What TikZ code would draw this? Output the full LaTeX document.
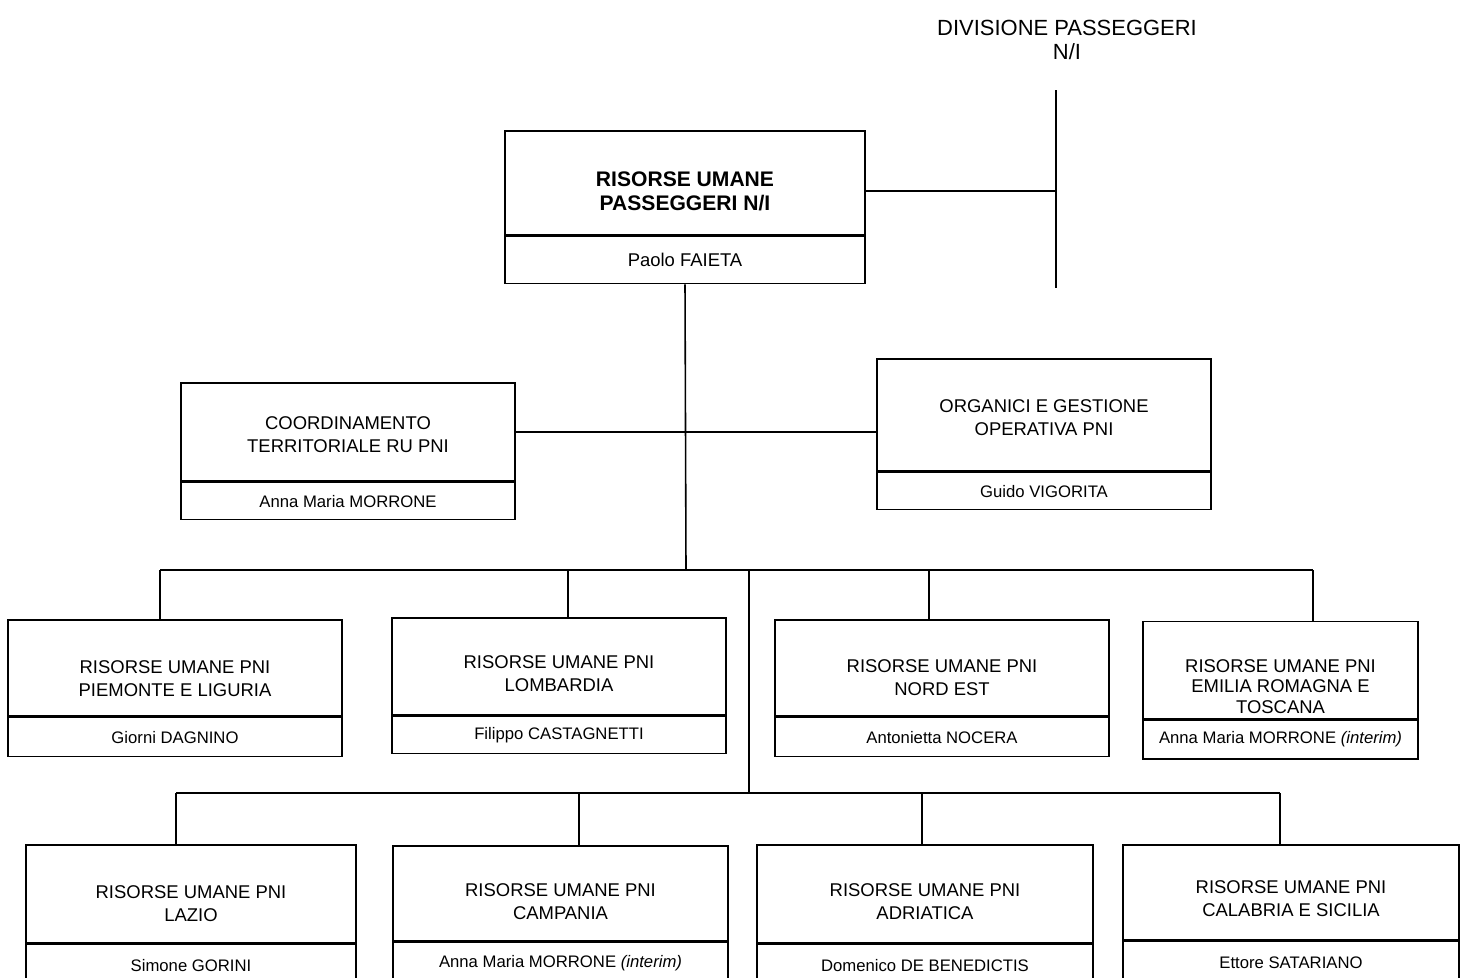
\documentclass[tikz,border=0pt]{standalone}
\usepackage{fontspec}
\setmainfont{Liberation Sans}
\usetikzlibrary{positioning}

\begin{document}
\begin{tikzpicture}[x=0.02cm,y=-0.02cm,line width=0.9pt,
    ufficio/.style={draw,inner sep=0pt},
    testo/.style={align=center,inner sep=0pt,
      font=\fontsize{10.5}{13}\selectfont},
    titolare/.style={draw,align=center,inner sep=0pt,
      font=\fontsize{9.5}{11}\selectfont}]
  \useasboundingbox (0,0) rectangle (1463,977);

  % divisione
  \node[align=center,font=\fontsize{12.5}{13.6}\selectfont] (div) at (1067,40)
    {DIVISIONE PASSEGGERI\\N/I};
  \coordinate (divtop) at (1056,90);
  \coordinate (divbot) at (1056,288);
  \draw (divtop) -- (divbot);

  % risorse umane passeggeri
  \node[ufficio,minimum width=7.2cm,minimum height=2.08cm] (rum) at (685,183) {};
  \node[testo,font=\fontsize{12}{13.6}\selectfont\bfseries] (rumt)
    at ([yshift=-0.17cm]rum.center) {RISORSE UMANE\\PASSEGGERI N/I};
  \node[titolare,minimum width=7.2cm,minimum height=0.94cm,
    font=\fontsize{10.5}{12}\selectfont,below=0pt of rum] (rumn) {Paolo FAIETA};
  \draw ([yshift=-0.16cm]rum.east) -- ([yshift=-0.16cm]rum.east -| divtop);

  % staff
  \node[ufficio,minimum width=6.68cm,minimum height=1.96cm] (coord) at (348,432) {};
  \node[testo] (coordt) at ([yshift=-0.05cm]coord.center)
    {COORDINAMENTO\\TERRITORIALE RU PNI};
  \node[titolare,minimum width=6.68cm,minimum height=0.74cm,below=0pt of coord]
    (coordn) {Anna Maria MORRONE};
  \node[ufficio,minimum width=6.68cm,minimum height=2.24cm] (org) at (1044,415) {};
  \node[testo] (orgt) at ([yshift=-0.06cm]org.center)
    {ORGANICI E GESTIONE\\OPERATIVA PNI};
  \node[titolare,minimum width=6.68cm,minimum height=0.74cm,below=0pt of org]
    (orgn) {Guido VIGORITA};
  \draw (coord.east) -- (coord.east -| org.west);

  % primo livello territoriale
  \node[ufficio,minimum width=6.68cm,minimum height=1.92cm] (pie) at (175,668) {};
  \node[testo] (piet) at ([yshift=-0.21cm]pie.center)
    {RISORSE UMANE PNI\\PIEMONTE E LIGURIA};
  \node[titolare,minimum width=6.68cm,minimum height=0.78cm,below=0pt of pie]
    (pien) {Giorni DAGNINO};
  \node[ufficio,minimum width=6.68cm,minimum height=1.94cm] (lom) at (559,666.5) {};
  \node[testo] (lomt) at ([yshift=-0.14cm]lom.center)
    {RISORSE UMANE PNI\\LOMBARDIA};
  \node[titolare,minimum width=6.68cm,minimum height=0.74cm,below=0pt of lom]
    (lomn) {Filippo CASTAGNETTI};
  \node[ufficio,minimum width=6.68cm,minimum height=1.92cm] (nes) at (942,668) {};
  \node[testo] (nest) at ([yshift=-0.19cm]nes.center)
    {RISORSE UMANE PNI\\NORD EST};
  \node[titolare,minimum width=6.68cm,minimum height=0.78cm,below=0pt of nes]
    (nesn) {Antonietta NOCERA};
  \node[ufficio,minimum width=5.5cm,minimum height=1.94cm] (emi) at (1280.5,670) {};
  \node[testo,font=\fontsize{10.5}{11.8}\selectfont] (emit)
    at ([yshift=-0.33cm]emi.center)
    {RISORSE UMANE PNI\\EMILIA ROMAGNA E\\TOSCANA};
  \node[titolare,minimum width=5.5cm,minimum height=0.78cm,below=0pt of emi]
    (emin) {Anna Maria MORRONE \textit{(interim)}};

  % secondo livello territoriale
  \node[ufficio,minimum width=6.6cm,minimum height=1.96cm] (laz) at (191,894) {};
  \node[testo] (lazt) at ([yshift=-0.2cm]laz.center)
    {RISORSE UMANE PNI\\LAZIO};
  \node[titolare,minimum width=6.6cm,minimum height=0.84cm,below=0pt of laz]
    (lazn) {Simone GORINI};
  \node[ufficio,minimum width=6.7cm,minimum height=1.9cm] (cam) at (560.5,893.5) {};
  \node[testo] (camt) at ([yshift=-0.16cm]cam.center)
    {RISORSE UMANE PNI\\CAMPANIA};
  \node[titolare,minimum width=6.7cm,minimum height=0.84cm,below=0pt of cam]
    (camn) {Anna Maria MORRONE \textit{(interim)}};
  \node[ufficio,minimum width=6.72cm,minimum height=1.96cm] (adr) at (925,894) {};
  \node[testo] (adrt) at ([yshift=-0.15cm]adr.center)
    {RISORSE UMANE PNI\\ADRIATICA};
  \node[titolare,minimum width=6.72cm,minimum height=0.84cm,below=0pt of adr]
    (adrn) {Domenico DE BENEDICTIS};
  \node[ufficio,minimum width=6.72cm,minimum height=1.9cm] (cal) at (1291,892.5) {};
  \node[testo] (calt) at ([yshift=-0.13cm]cal.center)
    {RISORSE UMANE PNI\\CALABRIA E SICILIA};
  \node[titolare,minimum width=6.72cm,minimum height=0.84cm,below=0pt of cal]
    (caln) {Ettore SATARIANO};

  % linee di dipendenza
  \coordinate (bus1) at (686,570);
  \coordinate (bus2) at (749,793);
  \draw (rumn.south) -- (bus1);
  \coordinate (d1) at (160,570);
  \coordinate (d2) at (568,570);
  \coordinate (d3) at (929,570);
  \coordinate (d4) at (1313,570);
  \draw (d1) -- (d4);
  \draw (d1) -- (d1 |- pie.north);
  \draw (d2) -- (d2 |- lom.north);
  \draw (d3) -- (d3 |- nes.north);
  \draw (d4) -- (d4 |- emi.north);
  \draw (bus1 -| bus2) -- (bus2);
  \coordinate (e1) at (176,793);
  \coordinate (e2) at (579,793);
  \coordinate (e3) at (922,793);
  \coordinate (e4) at (1280,793);
  \draw (e1) -- (e4);
  \draw (e1) -- (e1 |- laz.north);
  \draw (e2) -- (e2 |- cam.north);
  \draw (e3) -- (e3 |- adr.north);
  \draw (e4) -- (e4 |- cal.north);
\end{tikzpicture}
\end{document}
